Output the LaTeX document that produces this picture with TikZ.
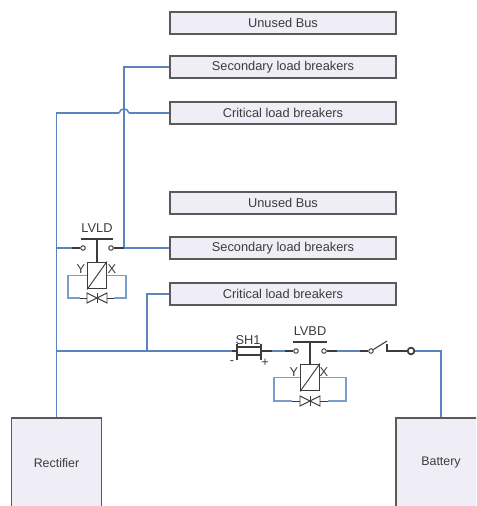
\documentclass[tikz,border=0pt]{standalone}
\usepackage{fontspec}
\setmainfont{Liberation Sans}
\definecolor{wire}{HTML}{5B84BE}
\definecolor{boxfill}{HTML}{EFEEF7}
\definecolor{boxline}{HTML}{5A5A5A}
\definecolor{ink}{HTML}{3C3C3C}
\tikzset{
  px/.style={x=0.75pt,y=-0.75pt},
  busbox/.style={draw=boxline,line width=0.9pt,fill=boxfill,minimum width=169.5pt,minimum height=16.5pt,inner sep=0pt,font=\fontsize{9.6}{11}\selectfont,text=ink},
  srcbox/.style={draw=boxline,line width=0.9pt,fill=boxfill,minimum width=67.5pt,minimum height=67.5pt,inner sep=0pt,font=\fontsize{9.3}{11}\selectfont,text=ink},
  wireline/.style={draw=wire,line width=1.1pt},
  loopline/.style={draw=wire!80,line width=0.8pt},
  part/.style={draw=ink,line width=0.8pt},
  contact/.style={circle,draw=ink,line width=0.7pt,fill=white,minimum size=3.4pt,inner sep=0pt},
  lab/.style={font=\fontsize{9.6}{11}\selectfont,text=ink,inner sep=0pt},
  coil/.style={draw=ink,line width=0.9pt,fill=white,minimum width=14pt,minimum height=20pt,inner sep=0pt}
}
\begin{document}
\begin{tikzpicture}[px]
\useasboundingbox (0,0) rectangle (476,506);
\clip (0,0) rectangle (476,506);
\node[busbox] (u1) at (283,23) {Unused Bus};
\node[busbox] (s1) at (283,67) {Secondary load breakers};
\node[busbox] (c1) at (283,113) {Critical load breakers};
\node[busbox] (u2) at (283,203) {Unused Bus};
\node[busbox] (s2) at (283,248) {Secondary load breakers};
\node[busbox] (c2) at (283,294) {Critical load breakers};
\node[srcbox] (rect) at (56.5,463) {Rectifier};
\node[srcbox] (batt) at (441,463) {Battery};
% coordinates
\coordinate (busT) at (56.5,113);
\coordinate (hopR) at (129,113);
\coordinate (hopL) at (119,113);
\coordinate (sec) at (124,67);
\coordinate (secB) at (124,248);
\coordinate (cr2) at (147,351);
\coordinate (cr2t) at (147,294);
\coordinate (busL) at (56.5,351);
\coordinate (busM) at (56.5,248);
\coordinate (battT) at (441,351);
% main wires
\draw[wireline] (c1.west) -- (hopR);
\draw[wireline] (hopR) .. controls (127.5,107.5) and (120.5,107.5) .. (hopL);
\draw[wireline] (hopL) -- (busT) -- (rect.north);
\draw[wireline] (s1.west) -- (sec) -- (secB) -- (s2.west);
\draw[wireline] (busM) -- (72,248);
\draw[wireline] (c2.west) -- (cr2t) -- (cr2);
\draw[wireline] (busL) -- (232,351);
\draw[wireline] (272,351) -- (285,351);
\draw[wireline] (337,351) -- (360,351);
\draw[wireline] (411,351) -- (battT) -- (batt.north);
% LVLD
\node[lab] (lvld) at (97,228) {LVLD};
\coordinate (b1l) at (81,239); \coordinate (b1r) at (113,239);
\draw[part,line width=1pt] (b1l) -- (b1r);
\node[coil] (k1) at (97,275.5) {};
\draw[part] (97,239) -- (k1.north);
\draw[part,line width=0.7pt] (k1.south west) -- (k1.north east);
\node[contact] (c1l) at (83,248) {};
\node[contact] (c1r) at (111,248) {};
\draw[part] (72,248) -- (c1l);
\draw[part] (c1r) -- (124,248);
\node[lab] at (81,269) {Y};
\node[lab] at (112,269) {X};
\draw[loopline] (k1.west) -- (68,275.5) -- (68,298) -- (80,298);
\draw[loopline] (k1.east) -- (126,275.5) -- (126,298) -- (114,298);
\draw[part,line width=0.7pt] (80,298) -- (87,298) (107,298) -- (114,298);
\draw[part,line width=0.7pt] (87,293) -- (107,303) -- (107,293) -- (87,303) -- cycle;
\draw[part,line width=0.7pt] (97,293) -- (97,303);
% SH1
\node[lab] (sh) at (248,340) {SH1};
\draw[part] (232,351) -- (237,351) (261,351) -- (272,351);
\draw[part] (237,347) rectangle (261,355);
\draw[part] (237,344) -- (237,360) (261,344) -- (261,360);
\node[lab] at (232,363) {-};
\node[lab] at (265,363) {+};
% LVBD
\node[lab] (lvbd) at (310,331) {LVBD};
\draw[part,line width=1pt] (293,342) -- (327,342);
\node[coil] (k2) at (310,377.5) {};
\draw[part] (310,342) -- (k2.north);
\draw[part,line width=0.7pt] (k2.south west) -- (k2.north east);
\node[contact] (c2l) at (296,351) {};
\node[contact] (c2r) at (324,351) {};
\draw[part] (285,351) -- (c2l);
\draw[part] (c2r) -- (337,351);
\node[lab] at (294,372) {Y};
\node[lab] at (324,372) {X};
\draw[loopline] (k2.west) -- (274,377.5) -- (274,401) -- (292,401);
\draw[loopline] (k2.east) -- (346,377.5) -- (346,401) -- (328,401);
\draw[part,line width=0.7pt] (292,401) -- (300,401) (320,401) -- (328,401);
\draw[part,line width=0.7pt] (300,396) -- (320,406) -- (320,396) -- (300,406) -- cycle;
\draw[part,line width=0.7pt] (310,396) -- (310,406);
% switch
\node[contact] (sw) at (371,351) {};
\draw[part] (360,351) -- (sw);
\draw[part] (sw) -- (387,341);
\draw[part] (387,344) -- (387,351) -- (409,351);
\node[contact,minimum size=5pt,line width=1.3pt] (term) at (411,351) {};
\end{tikzpicture}
\end{document}
